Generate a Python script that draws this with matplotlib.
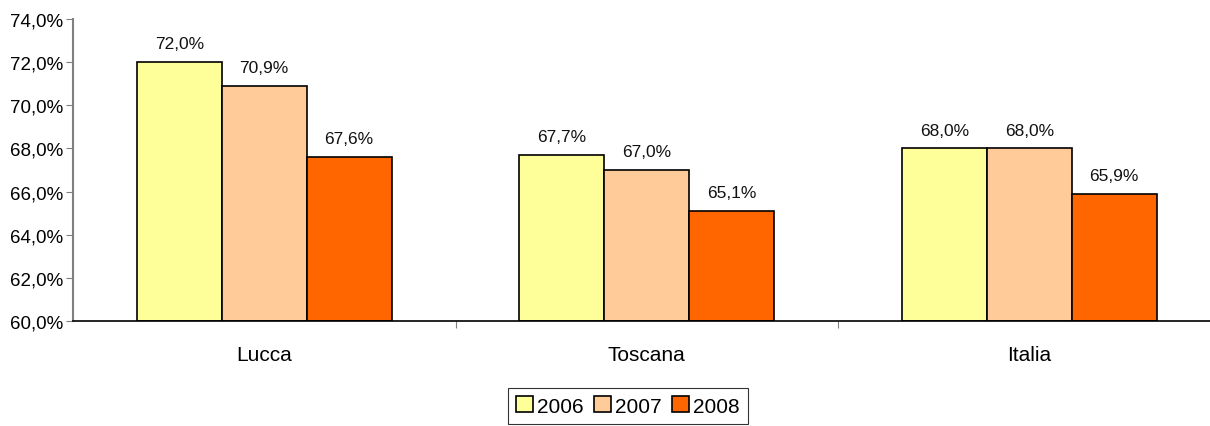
import numpy as np
import matplotlib.pyplot as plt
from matplotlib.ticker import FuncFormatter

plt.rcParams['font.family'] = ['Liberation Sans', 'DejaVu Sans']

# dati
categorie = ["Lucca", "Toscana", "Italia"]
anni = ["2006", "2007", "2008"]
v2006 = [72.0, 67.7, 68.0]
v2007 = [70.9, 67.0, 68.0]
v2008 = [67.6, 65.1, 65.9]
colori = ["#FFFF99", "#FFCC99", "#FF6600"]

fig = plt.figure(figsize=(12.1, 4.27), dpi=100)
ax = fig.add_axes([73/1210, 1 - 322/427, 1147.5/1210, 302/427])

x = np.arange(len(categorie))
w = 0.222
for i, (vals, col, anno) in enumerate(zip([v2006, v2007, v2008], colori, anni)):
    pos = x + (i - 1) * w
    ax.bar(pos, np.array(vals) - 60, w, bottom=60, color=col,
           edgecolor="black", linewidth=1.2, label=anno)
    for p, v in zip(pos, vals):
        ax.text(p, v + 0.5, f"{v:.1f}%".replace(".", ","), ha="center",
                va="bottom", fontsize=12.5, color="#111111")

ax.set_ylim(60, 74)
ax.set_yticks(np.arange(60, 75, 2))
ax.yaxis.set_major_formatter(FuncFormatter(lambda v, _: f"{v:.1f}%".replace(".", ",")))
ax.set_xlim(-0.5, 2.5)
ax.set_xticks([0.5, 1.5, 2.5], minor=False)
ax.set_xticklabels([])
ax.set_xticks(x, minor=True)
ax.set_xticklabels(categorie, minor=True, fontsize=15)
ax.tick_params(axis="x", which="minor", length=0, pad=17)
ax.tick_params(axis="x", which="major", length=5, direction="out", color="#808080")
ax.tick_params(axis="y", length=5, direction="out", color="#808080", labelsize=13.5, pad=2)

for s in ["top", "right"]:
    ax.spines[s].set_visible(False)
ax.spines["left"].set_color("#808080")
ax.spines["left"].set_linewidth(1.5)
ax.spines["bottom"].set_color("black")
ax.spines["bottom"].set_linewidth(1.2)

leg = fig.legend(loc="upper center", bbox_to_anchor=(628/1210, 1 - 389/427), ncol=3,
                 frameon=True, fancybox=False, fontsize=15, handlelength=0.8,
                 handleheight=0.8, handletextpad=0.2, columnspacing=0.5,
                 borderpad=0.4, borderaxespad=0)
leg.get_frame().set_edgecolor("black")
leg.get_frame().set_linewidth(0.8)

fig.savefig("out.png", dpi=100)
